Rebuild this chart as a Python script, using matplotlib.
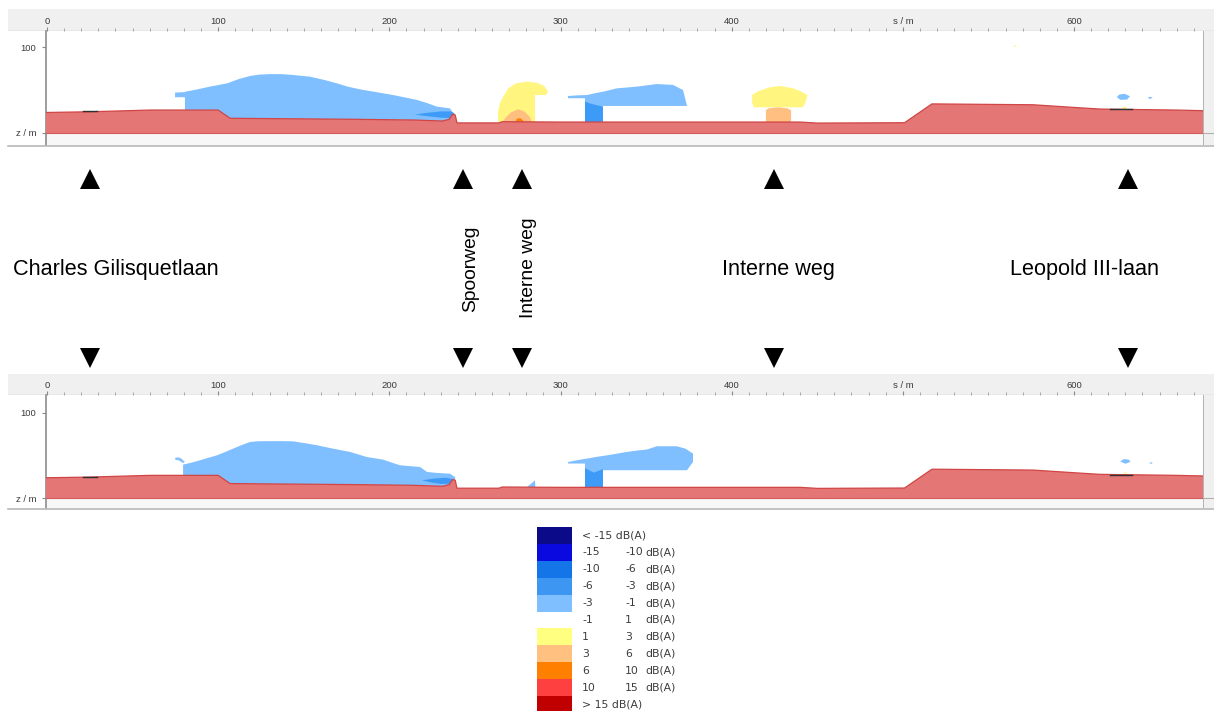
import matplotlib
matplotlib.use("Agg")
import matplotlib.pyplot as plt
from matplotlib import font_manager as fm
from matplotlib.patches import Polygon
from matplotlib.ticker import FixedLocator, FixedFormatter, MultipleLocator

W, H = 1214, 711
plt.rcParams["hatch.linewidth"] = 0.4

# ---------------------------------------------------------------- data
# ground profile along the section (distance s / m, height z / m)
terrain_s = [-2, 0, 25, 60, 100, 107, 180, 214, 231, 235, 237, 238.5, 239.5,
             264, 266, 300, 440, 450, 501, 517, 576, 599, 615, 660, 677]
terrain_z = [62, 62, 62.4, 63.4, 63.4, 58.6, 58.0, 57.6, 57.0, 58.0, 61.0, 60.5, 55.9,
             55.9, 56.6, 56.4, 56.4, 55.8, 56.0, 67.0, 66.5, 65.0, 64.0, 63.4, 63.0]
road_marks = [(21, 29, 62.6), (621, 634, 63.9)]

# noise difference zones, upper section (class, outline)
zones_upper = [
    ("-3..-1", [(74.8, 73.6), (80.6, 73.9), (80.6, 74.1), (88, 75.5), (95.2, 77.1), (105.2, 79.0),
                (112, 81.5), (118.6, 83.3), (124, 84.1), (130.3, 84.4), (137, 84.4), (143.7, 83.9),
                (153.6, 82.9), (162, 81.0), (169.4, 79.0), (176, 77.0), (182.9, 75.5), (192.8, 73.8),
                (202.1, 72.2), (209, 70.8), (216.2, 69.3), (222, 67.5), (227.8, 65.4), (235.4, 64.4),
                (237.2, 61.7), (238, 56), (80.6, 56), (80.6, 70.9), (74.8, 70.9)]),
    ("-6..-3", [(215, 60.8), (222, 61.8), (230, 62.6), (236, 62.6), (238, 61.5), (238, 58.6),
                (230, 59.0), (222, 59.8)]),
    ("1..3", [(263.5, 56), (263.5, 62.4), (264.5, 67), (266, 70.3), (269.5, 76.1), (274, 79.0),
              (280.4, 80.0), (286, 79.4), (290.5, 77.5), (292.7, 74.1), (291.5, 72.2),
              (285.1, 72.2), (285.1, 56)]),
    ("3..6", [(265.8, 56), (268, 59), (271, 62), (275.2, 63.9), (279, 62.5), (282, 59.5), (283.3, 56)]),
    ("6..10", [(273.4, 56), (274.5, 58.3), (276.5, 58.7), (278, 57.5), (278.5, 56)]),
    ("-3..-1", [(304.4, 71.6), (310, 72.0), (315.5, 72.2), (320, 73.2), (324.8, 74.1), (333, 76.1),
                (344.7, 77.1), (356.3, 78.6), (365.7, 78.1), (371.6, 75.1), (373.9, 65.8),
                (324.8, 65.8), (324.8, 56), (314.3, 56), (314.3, 70.3), (304.4, 70.3)]),
    ("-6..-3", [(314.3, 56), (314.3, 68.5), (317, 67.3), (324.8, 65.4), (324.8, 56)]),
    ("1..3", [(413, 65.0), (412, 67.5), (411.9, 72.2), (416, 74.6), (422, 76.6), (428.2, 77.5),
              (435.8, 76.1), (440, 74.5), (444.3, 72.2), (443, 67.4), (441.5, 65.0)]),
    ("3..6", [(420, 56), (420, 63.3), (421.5, 64.4), (427, 65.0), (432.5, 64.4), (434.7, 63.3),
              (434.7, 56)]),
    ("-3..-1", [(625, 71.0), (626.5, 72.5), (629.5, 72.9), (632.7, 71.5), (631, 69.5), (627, 69.4)]),
    ("-3..-1", [(643, 70.5), (644.5, 71.2), (646, 70.6), (644.5, 69.9)]),
    ("1..3", [(628, 64.6), (629.5, 65.5), (631, 64.8), (629.5, 64.0)]),
    ("1..3", [(564.5, 100.8), (565.5, 101.3), (566.5, 100.8), (565.5, 100.3)]),
]

# noise difference zones, lower section
zones_lower = [
    ("-3..-1", [(74.8, 73.5), (76.5, 74.0), (78.5, 73.2), (80.5, 71.2), (79.5, 70.6), (77, 72.2),
                (75, 72.5)]),
    ("-3..-1", [(79.5, 56), (79.5, 69.7), (84, 70.7), (89.4, 72.2), (94, 73.6), (99.3, 75.1),
                (104, 77.0), (108.7, 79.0), (113.5, 81.0), (118.6, 82.9), (123, 83.3), (128.5, 83.4),
                (136, 83.4), (143.7, 83.3), (150, 82.3), (157.7, 81.0), (167.1, 79.0), (177.0, 77.1),
                (186.9, 74.1), (196.3, 72.6), (201, 71.0), (206.2, 69.3), (212, 68.8), (217.9, 68.3),
                (222.0, 65.4), (228, 64.8), (235.4, 64.4), (238.4, 62.4), (239, 56)]),
    ("-6..-3", [(219, 60.5), (226, 61.5), (233, 62.0), (237, 61.3), (238, 58.5), (230, 58.4),
                (224, 59.3)]),
    ("-3..-1", [(280.4, 56.5), (285.1, 60.5), (285.3, 56.5)]),
    ("-3..-1", [(304.4, 71.2), (310, 72.3), (315.5, 73.2), (321, 74.2), (327.2, 75.1), (333, 76.1),
                (338.8, 77.1), (344, 77.8), (350.5, 78.5), (356.3, 80.4), (368.0, 80.4), (373, 79.0),
                (377.4, 76.1), (377.4, 71.2), (373.9, 66.4), (324.8, 66.4), (324.8, 56),
                (314.3, 56), (314.3, 70.3), (304.4, 70.3)]),
    ("-6..-3", [(314.3, 56), (314.3, 67.6), (319.5, 65.0), (324.8, 67.0), (324.8, 56)]),
    ("-3..-1", [(627, 71.5), (629, 72.9), (632, 72.6), (633, 71.3), (630, 70.2)]),
    ("-3..-1", [(644, 70.6), (645, 71.1), (646, 70.6), (645, 70.1)]),
    ("1..3", [(629, 64.7), (630, 65.3), (631, 64.7), (630, 64.2)]),
]

# legend classes
class_keys = ["<-15", "-15..-10", "-10..-6", "-6..-3", "-3..-1", "-1..1",
              "1..3", "3..6", "6..10", "10..15", ">15"]
class_colors = ["#0b0b8a", "#0a0ae0", "#1475e8", "#3d96f2", "#80bfff", "#ffffff",
                "#ffff80", "#ffc080", "#ff8000", "#ff4040", "#c00000"]
legend_lo = ["< -15 dB(A)", "-15", "-10", "-6", "-3", "-1", "1", "3", "6", "10", "> 15 dB(A)"]
legend_hi = ["", "-10", "-6", "-3", "-1", "1", "3", "6", "10", "15", ""]

# receiver / road positions along the section
marker_s = [25.1, 243.2, 277.3, 424.7, 631.7]

# axis ticks
xtick_pos = [0, 100, 200, 300, 400, 500, 600]
xtick_lab = ["0", "100", "200", "300", "400", "s / m", "600"]
ytick_pos = [50, 100]
ytick_lab = ["z / m", "100"]

# ---------------------------------------------------------------- styling
color_of = {"-6..-3": "#3d9bf7", "-3..-1": "#80bfff", "1..3": "#fff57f",
            "3..6": "#ffbf80", "6..10": "#ff8000"}
zone_order = {"-3..-1": 0, "1..3": 0, "3..6": 1, "-6..-3": 1, "6..10": 2}


def has_font(name):
    try:
        fm.findfont(fm.FontProperties(family=name), fallback_to_default=False)
        return True
    except ValueError:
        return False


if has_font("Liberation Sans Narrow"):
    label_font, label_scale = "Liberation Sans Narrow", 1.0
else:
    label_font, label_scale = "Liberation Sans", 0.82

PX_PER_M = 1.7117
S0_PX = 47.0
AX_X0, AX_X1 = 46, 1203

fig = plt.figure(figsize=(W / 100, H / 100), dpi=100)
fig.patch.set_facecolor("white")


def px_axes(x0, y0, x1, y1, **kw):
    return fig.add_axes([x0 / W, 1 - y1 / H, (x1 - x0) / W, (y1 - y0) / H], **kw)


def s_of_px(px):
    return (px - S0_PX) / PX_PER_M


def draw_section(head_y0, top_y, bot_y, z50_y, zones):
    # header strip with the distance scale
    head = px_axes(8, head_y0, W, top_y)
    head.set_facecolor("#f0f0f0")
    head.set_xticks([]); head.set_yticks([])
    for sp in head.spines.values():
        sp.set_visible(False)
    head.axhline(0, color="#c4c4c4", lw=1.0)

    # grey box on the right edge
    side = px_axes(AX_X1, top_y, W, bot_y)
    side.set_facecolor("#f0f0f0")
    side.set_xticks([]); side.set_yticks([])
    for sp in side.spines.values():
        sp.set_visible(False)
    side.axvline(0, color="#a8a8a8", lw=1.2)
    side.axhline((bot_y - z50_y) / (bot_y - top_y), color="#b0b0b0", lw=0.8)

    ax = px_axes(AX_X0, top_y, AX_X1, bot_y)
    ax.set_xlim(s_of_px(AX_X0), s_of_px(AX_X1))
    zhi = 50 + (z50_y - top_y) / PX_PER_M
    zlo = 50 - (bot_y - z50_y) / PX_PER_M
    ax.set_ylim(zlo, zhi)
    ax.axhspan(zlo, 50, color="#f7f7f7", zorder=0, lw=0)

    for key, pts in zones:
        ax.add_patch(Polygon(pts, closed=True, facecolor=color_of[key], edgecolor="none",
                             zorder=2 + zone_order[key]))

    ground_x = terrain_s + [terrain_s[-1], terrain_s[0]]
    ground_y = terrain_z + [50, 50]
    ax.add_patch(Polygon(list(zip(ground_x, ground_y)), closed=True, facecolor="white",
                         edgecolor="#e47676", hatch="x" * 25, lw=0.0, zorder=6))
    ax.plot(terrain_s, terrain_z, color="#d04545", lw=0.9, zorder=7)
    ax.plot([terrain_s[0], terrain_s[-1]], [50, 50], color="#d65a5a", lw=0.8, zorder=7)
    for s0, s1, z in road_marks:
        ax.plot([s0, s1], [z, z], color="#303030", lw=1.0, zorder=8)

    ax.xaxis.tick_top()
    ax.xaxis.set_major_locator(FixedLocator(xtick_pos))
    ax.xaxis.set_major_formatter(FixedFormatter(xtick_lab))
    ax.xaxis.set_minor_locator(MultipleLocator(10))
    ax.tick_params(axis="x", which="major", direction="out", length=3, width=0.8,
                   color="#8a8a8a", pad=0.5, labelsize=6.8, labelcolor="#3a3a3a")
    ax.tick_params(axis="x", which="minor", direction="out", length=2, width=0.6,
                   color="#9a9a9a")
    ax.yaxis.set_major_locator(FixedLocator(ytick_pos))
    ax.yaxis.set_major_formatter(FixedFormatter(ytick_lab))
    ax.tick_params(axis="y", direction="out", length=3, width=0.8, color="#8a8a8a",
                   pad=4, labelsize=6.8, labelcolor="#3a3a3a")
    for lab in ax.get_xticklabels() + ax.get_yticklabels():
        lab.set_fontfamily("Liberation Sans")
    ax.spines["left"].set_color("#8c8c8c")
    ax.spines["left"].set_linewidth(1.2)
    ax.spines["top"].set_visible(False)
    ax.spines["right"].set_visible(False)
    ax.spines["bottom"].set_visible(False)

    # bottom border of the section window
    fig.add_artist(plt.Line2D([8 / W, 1], [1 - (bot_y + 0.5) / H] * 2, color="#b8b8b8", lw=1.2))
    return ax


draw_section(9, 31, 145, 133, zones_upper)
draw_section(374, 395, 508, 498.3, zones_lower)

# road markers between the sections
mid = px_axes(AX_X0, 160, AX_X1, 380)
mid.set_xlim(s_of_px(AX_X0), s_of_px(AX_X1))
mid.set_ylim(380, 160)
mid.axis("off")
mid.plot(marker_s, [179.5] * len(marker_s), linestyle="none", marker="^", ms=14.4,
         color="black", mew=0)
mid.plot(marker_s, [358.5] * len(marker_s), linestyle="none", marker="v", ms=14.4,
         color="black", mew=0)

big = 19 * label_scale
small = 16.9 * label_scale
fig.text(116 / W, 1 - 270 / H, "Charles Gilisquetlaan", ha="center", va="center",
         fontsize=big, family=label_font)
fig.text(778.5 / W, 1 - 270 / H, "Interne weg", ha="center", va="center",
         fontsize=big, family=label_font)
fig.text(1085 / W, 1 - 270 / H, "Leopold III-laan", ha="center", va="center",
         fontsize=big, family=label_font)
fig.text(471 / W, 1 - 268.5 / H, "Spoorweg", ha="center", va="center", rotation=90,
         fontsize=small, family=label_font)
fig.text(528.5 / W, 1 - 268 / H, "Interne weg", ha="center", va="center", rotation=90,
         fontsize=small, family=label_font)

# colour legend
ROW = 16.9
leg = px_axes(530, 520, 720, 711)
leg.set_xlim(530, 720)
leg.set_ylim(711, 520)
leg.axis("off")
row_y = [535.5 + i * ROW for i in range(len(class_keys))]
leg.barh(row_y, [35] * len(row_y), left=537, height=ROW, color=class_colors, linewidth=0)
for y, lo, hi in zip(row_y, legend_lo, legend_hi):
    leg.text(582, y, lo, ha="left", va="center", fontsize=7.8, color="#3c3c3c")
    if hi:
        leg.text(625, y, hi, ha="left", va="center", fontsize=7.8, color="#3c3c3c")
        leg.text(645, y, "dB(A)", ha="left", va="center", fontsize=7.8, color="#3c3c3c")

fig.savefig("out.png", dpi=100, facecolor="white")
